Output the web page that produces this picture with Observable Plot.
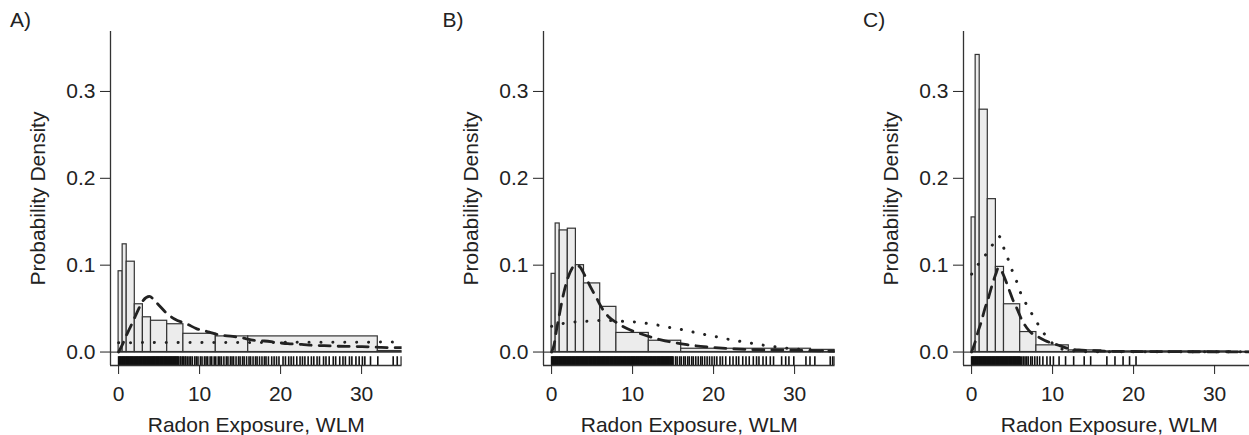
<!DOCTYPE html>
<html><head><meta charset="utf-8">
<script src="https://cdn.jsdelivr.net/npm/d3@7"></script>
<script src="https://cdn.jsdelivr.net/npm/@observablehq/plot@0.6"></script>
<style>
html,body{margin:0;padding:0;background:#fff;overflow:hidden;}
#wrap{position:relative;width:1249px;height:435px;overflow:hidden;font-family:"Liberation Sans",Arial,sans-serif;color:#222;}
.panel{position:absolute;top:0;width:420px;height:435px;}
.panel svg{max-width:none !important;}
.tag{position:absolute;top:9px;font-size:21px;line-height:21px;}
</style></head><body><div id="wrap"></div>
<script>
const panelTags = ["A)", "B)", "C)"];
const xLabel = "Radon Exposure, WLM";
const yLabel = "Probability Density";
const xTicks = [0, 10, 20, 30];
const yTicks = [0, 0.1, 0.2, 0.3];
const binEdges = [0, 0.5, 1, 2, 3, 4, 6, 8, 12, 16, 32, 64];

const densityA = [0.093, 0.124, 0.104, 0.055, 0.040, 0.036, 0.032, 0.021, 0.018, 0.018, 0.0012];
const densityB = [0.090, 0.148, 0.140, 0.142, 0.100, 0.079, 0.052, 0.022, 0.013, 0.0038, 0.0025];
const densityC = [0.155, 0.342, 0.279, 0.176, 0.098, 0.055, 0.023, 0.0077, 0.0019, 0.0008, 0.0002];

const dashedA = [[0,0],[0.53,0.0096],[1.15,0.023],[1.77,0.035],[2.39,0.048],[3.0,0.059],[3.8,0.064],[4.65,0.057],[5.9,0.045],[6.9,0.038],[8.5,0.032],[9.6,0.027],[11.2,0.023],[12.3,0.020],[14.1,0.018],[15.1,0.0165],[16.8,0.0135],[18.0,0.0127],[19.7,0.0108],[20.9,0.0096],[22.6,0.0088],[24.0,0.0077],[25.4,0.0073],[26.9,0.0067],[28.5,0.0064],[29.8,0.0062],[31.4,0.0058],[32.4,0.0053],[34.3,0.005],[35.2,0.005]];
const dottedA = [[0,0.0108],[12,0.011],[24,0.0112],[35.2,0.0115]];

const dashedB = [[0,0],[0.3,0.008],[0.6,0.025],[1,0.045],[1.5,0.068],[2,0.085],[2.5,0.096],[3,0.1],[3.5,0.098],[4,0.09],[4.8,0.075],[5.5,0.063],[6.25,0.05],[7,0.041],[8,0.034],[9.3,0.027],[11,0.021],[13.5,0.014],[16.7,0.0085],[19.4,0.0058],[22.3,0.0038],[25.2,0.0027],[28,0.0023],[30.7,0.0019],[33.6,0.0012],[35.2,0.001]];
const dottedB = [[0,0.0296],[1.3,0.0327],[2.76,0.0346],[4.4,0.0354],[5.84,0.0362],[7.3,0.0362],[8.7,0.0354],[10.3,0.0346],[11.7,0.033],[13.25,0.0308],[14.7,0.028],[16.1,0.0258],[17.6,0.0227],[19.0,0.02],[20.5,0.0173],[21.9,0.0146],[23.3,0.0123],[24.8,0.01],[26.3,0.0077],[27.8,0.0058],[29.3,0.0042],[30.7,0.003],[32.2,0.0023],[33.6,0.0015],[35.2,0.0012]];

const dashedC = [[0,0],[0.37,0.0096],[0.78,0.023],[1.2,0.035],[1.64,0.05],[2.0,0.06],[2.6,0.079],[3.0,0.09],[3.3,0.097],[3.7,0.093],[4.5,0.075],[5.1,0.06],[5.6,0.05],[6.2,0.037],[6.8,0.028],[7.5,0.021],[8.1,0.018],[9.5,0.0115],[10.5,0.0085],[12.2,0.0035],[13.6,0.0023],[15.2,0.0015],[16.7,0.001],[20,0.0006],[25,0.0004],[30,0.0003],[35.2,0.0002]];
const dottedC = [[0,0.0896],[0.8,0.1007],[1.7,0.1115],[2.55,0.123],[3.4,0.133],[4.0,0.119],[4.5,0.107],[5.0,0.094],[5.55,0.0815],[6.05,0.068],[6.7,0.056],[7.5,0.043],[8.2,0.032],[9.05,0.020],[11.1,0.0035],[13,0.001],[15,0.0003],[35.2,0.0002]];

const rugA = [0,0.1,0.2,0.3,0.4,0.5,0.6,0.7,0.8,0.9,1.0,1.1,1.2,1.3,1.4,1.5,1.6,1.7,1.8,1.9,2.0,2.1,2.2,2.3,2.4,2.5,2.6,2.7,2.8,2.9,
  3.0,3.1,3.2,3.3,3.4,3.5,3.6,3.7,3.8,3.9,4.0,4.1,4.2,4.3,4.4,4.5,4.6,4.7,4.8,4.9,5.0,5.1,5.2,5.3,5.4,5.5,5.6,5.7,5.8,5.9,
  6.0,6.1,6.2,6.3,6.4,6.5,6.6,6.7,6.8,6.9,7.0,7.1,7.2,7.3,7.4,7.6,7.7,7.9,8.0,8.2,8.3,8.5,
  8.7,8.9,9.1,9.4,9.6,9.8,10.1,10.3,10.6,10.8,11.0,11.3,11.5,11.8,12.0,12.3,12.5,12.7,13.0,13.3,13.5,13.8,14.0,14.2,14.5,14.8,15.0,15.3,15.5,15.8,16.1,16.3,16.6,16.9,17.1,17.4,17.7,18.0,18.2,18.5,18.9,19.2,19.5,19.8,
  20.3,20.6,21.0,21.3,21.6,22.0,22.4,22.7,23.0,23.4,23.8,24.1,24.5,24.8,25.3,25.6,26.0,26.5,26.8,27.3,27.7,28.0,28.5,28.8,29.3,29.7,30.1,30.4,
  31.1,32.0,33.9,34.4,34.9];
const rugB = [0,0.1,0.2,0.3,0.4,0.5,0.6,0.7,0.8,0.9,1.0,1.1,1.2,1.3,1.4,1.5,1.6,1.7,1.8,1.9,2.0,2.1,2.2,2.3,2.4,2.5,2.6,2.7,2.8,2.9,
  3.0,3.1,3.2,3.3,3.4,3.5,3.6,3.7,3.8,3.9,4.0,4.1,4.2,4.3,4.4,4.5,4.6,4.7,4.8,4.9,5.0,5.1,5.2,5.3,5.4,5.5,5.6,5.7,5.8,5.9,
  6.0,6.1,6.2,6.3,6.4,6.5,6.6,6.7,6.8,6.9,7.0,7.1,7.2,7.3,7.4,7.5,7.6,7.7,7.8,7.9,8.0,8.1,8.2,8.3,8.4,8.5,8.6,8.7,8.8,8.9,
  9.0,9.1,9.2,9.3,9.4,9.5,9.6,9.7,9.8,9.9,10.0,10.1,10.2,10.3,10.4,10.5,10.6,10.7,10.8,10.9,11.0,11.1,11.2,11.3,11.4,11.5,11.6,11.7,11.8,11.9,
  12.0,12.1,12.2,12.3,12.4,12.5,12.6,12.7,12.8,12.9,13.0,13.1,13.2,13.3,13.4,13.5,13.6,13.7,13.8,13.9,14.0,14.1,14.2,14.3,14.4,14.5,14.6,14.7,14.8,14.9,15.0,
  15.3,15.5,15.8,16.0,16.3,16.5,16.8,17.0,17.3,17.5,17.8,18.1,18.4,18.6,18.9,19.2,19.5,19.8,20.1,20.4,20.8,21.1,21.5,
  22.0,22.4,22.8,23.1,23.6,24.0,24.4,24.9,25.3,25.6,26.1,26.5,27.0,27.4,
  28.4,28.9,29.3,29.9,31.4,31.9,32.5,34.4,34.7,34.9];
const rugC = [0,0.1,0.2,0.3,0.4,0.5,0.6,0.7,0.8,0.9,1.0,1.1,1.2,1.3,1.4,1.5,1.6,1.7,1.8,1.9,2.0,2.1,2.2,2.3,2.4,2.5,2.6,2.7,2.8,2.9,
  3.0,3.1,3.2,3.3,3.4,3.5,3.6,3.7,3.8,3.9,4.0,4.1,4.2,4.3,4.4,4.5,4.6,4.7,4.8,4.9,5.0,5.1,5.2,5.3,5.4,5.5,5.6,5.7,5.8,5.9,6.0,
  6.2,6.4,6.6,6.8,7.0,7.3,7.5,7.8,8.1,8.4,8.8,
  9.3,9.7,10.1,10.8,11.6,12.6,13.9,14.7,16.7,17.7,18.7,19.5,20.3];

const panels = [
  {tag: panelTags[0], dens: densityA, dashed: dashedA, dotted: dottedA, rug: rugA, left: 0},
  {tag: panelTags[1], dens: densityB, dashed: dashedB, dotted: dottedB, rug: rugB, left: 432.5},
  {tag: panelTags[2], dens: densityC, dashed: dashedC, dotted: dottedC, rug: rugC, left: 853}
];

const X0 = -1, X1 = 35, Y0 = -0.0155, Y1 = 0.369;
const wrap = document.getElementById("wrap");

for (const p of panels) {
  const bars = p.dens.map((d, i) => ({x1: binEdges[i], x2: binEdges[i + 1], y: d}));
  const chart = Plot.plot({
    width: 420, height: 435,
    marginLeft: 110, marginRight: 18.4, marginTop: 31, marginBottom: 70,
    style: {fontSize: "21px", fontFamily: "'Liberation Sans', Arial, sans-serif", color: "#222", background: "transparent", overflow: "visible", maxWidth: "none"},
    x: {domain: [X0, X1]},
    y: {domain: [Y0, Y1]},
    marks: [
      Plot.ruleY([0], {stroke: "#444", strokeWidth: 1.3}),
      Plot.rectY(bars, {x1: "x1", x2: "x2", y1: 0, y2: "y", fill: "#ececec", stroke: "#333", strokeWidth: 1.2, clip: true}),
      Plot.line(p.dotted, {x: d => d[0], y: d => d[1], stroke: "#222", strokeWidth: 3, strokeDasharray: "0.1 11.8", strokeLinecap: "round", curve: "monotone-x", clip: true}),
      Plot.line(p.dashed, {x: d => d[0], y: d => d[1], stroke: "#222", strokeWidth: 2.8, strokeDasharray: "11 8", curve: "monotone-x", clip: true}),
      Plot.link(p.rug, {x1: d => d, x2: d => d, y1: Y0, y2: -0.0048, stroke: "#111", strokeWidth: 1.6, clip: true}),
      Plot.ruleX([X0], {stroke: "#333", strokeWidth: 1.3}),
      Plot.ruleY([Y0], {stroke: "#333", strokeWidth: 1.3}),
      Plot.axisY({ticks: yTicks, tickFormat: d3.format(".1f"), tickSize: 10, tickPadding: 5, label: yLabel, labelAnchor: "center", labelOffset: 80, labelArrow: "none"}),
      Plot.axisX({ticks: xTicks, tickFormat: d3.format("d"), tickSize: 9, tickPadding: 12, label: xLabel, labelAnchor: "center", labelOffset: 66, labelArrow: "none"})
    ]
  });
  const div = document.createElement("div");
  div.className = "panel";
  div.style.left = p.left + "px";
  div.appendChild(chart);
  wrap.appendChild(div);
  const t = document.createElement("div");
  t.className = "tag";
  t.style.left = (p.left + 10) + "px";
  t.textContent = p.tag;
  wrap.appendChild(t);
}
</script></body></html>
